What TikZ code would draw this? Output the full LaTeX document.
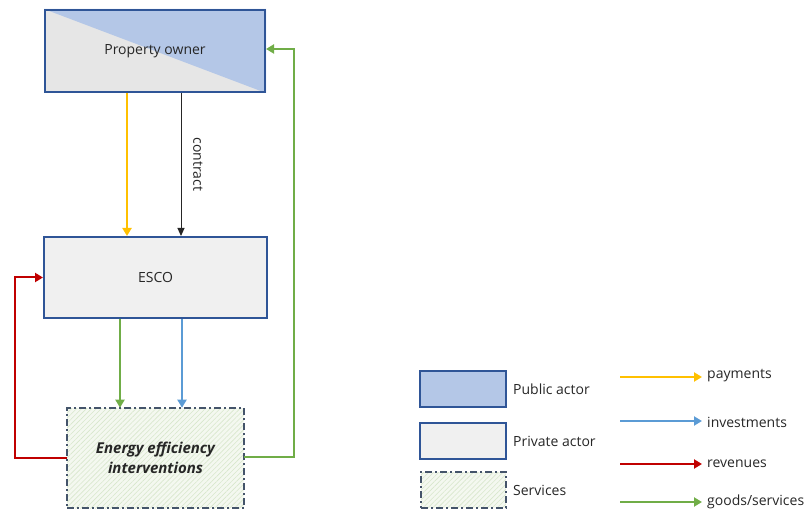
\documentclass[tikz,border=0pt]{standalone}
\usepackage{fontspec}
\setmainfont{Open Sans}
\usetikzlibrary{arrows.meta,patterns.meta,calc}
\definecolor{pubfill}{HTML}{B4C7E7}
\definecolor{actborder}{HTML}{2F5597}
\definecolor{privfill}{HTML}{F0F0F0}
\definecolor{ownerfill}{HTML}{E6E6E6}
\definecolor{servfill}{HTML}{F4F8F0}
\definecolor{hatchc}{HTML}{D8E7CC}
\definecolor{servborder}{HTML}{44546A}
\definecolor{txt}{HTML}{262626}
\definecolor{cpay}{HTML}{FFC000}
\definecolor{cinv}{HTML}{5B9BD5}
\definecolor{crev}{HTML}{C00000}
\definecolor{cgood}{HTML}{70AD47}
\tikzset{
  x=1pt, y=-1pt,
  lbl/.style={font=\fontsize{14}{16}\selectfont, text=txt},
  actor/.style={draw=actborder, line width=2pt, inner sep=0pt, lbl},
  pubbox/.style={actor, fill=pubfill},
  privbox/.style={actor, fill=privfill},
  servbox/.style={draw=servborder, line width=1.4pt, dash pattern=on 7pt off 3pt on 2pt off 3pt,
    preaction={fill=servfill},
    pattern={Lines[angle=45,distance=3.5pt,line width=0.6pt]}, pattern color=hatchc,
    inner sep=0pt, align=center},
  flow/.style={line width=2pt, -{Triangle[length=8pt,width=9pt]}},
  pay/.style={flow, draw=cpay},
  inv/.style={flow, draw=cinv},
  rev/.style={flow, draw=crev},
  good/.style={flow, draw=cgood},
  legtext/.style={anchor=west, inner sep=0pt, lbl},
}
\begin{document}
\begin{tikzpicture}
\useasboundingbox (0,0) rectangle (810,510);

% actors and services
\node[actor, fill=ownerfill, minimum width=220pt, minimum height=82pt] (owner) at (155,51) {};
\fill[pubfill] (owner.north west) -- (owner.north east) -- (owner.south east) -- cycle;
\node[actor, minimum width=220pt, minimum height=82pt] (ownerlbl) at (155,51) {Property owner};

\node[privbox, minimum width=223pt, minimum height=81pt] (esco) at (155.5,277.5) {ESCO};

\node[servbox, minimum width=177pt, minimum height=100pt, text=txt,
      font=\fontsize{15}{20.5}\selectfont\bfseries\itshape] (eei) at (155.5,458)
  {Energy efficiency\\interventions};

% flows between actors
\draw[pay] (owner.south -| 127,0) -- (esco.north -| 127,0);
\draw[line width=1pt, draw=txt, -{Triangle[length=8pt,width=7pt]}] (owner.south -| 181,0) -- node[pos=0.5, xshift=17pt, rotate=-90, inner sep=0pt, lbl] {contract} (esco.north -| 181,0);
\draw[good] (esco.south -| 120,0) -- (eei.north -| 120,0);
\draw[inv] (esco.south -| 182,0) -- (eei.north -| 182,0);
\coordinate (revc) at (15,0);
\draw[rev] (eei.west |- 0,458) -| (revc |- esco.west) -- (esco.west);
\coordinate (goodc) at (294,0);
\draw[good] (eei.east |- 0,457) -| (goodc |- 0,49) -- (owner.east |- 0,49);

% legend: actor types
\node[pubbox, minimum width=86pt, minimum height=36pt] (lpub) at (463,389) {};
\node[legtext] (lpubt) at (513,389) {Public actor};
\node[privbox, minimum width=86pt, minimum height=36pt] (lpriv) at (463,441) {};
\node[legtext] (lprivt) at (513,441) {Private actor};
\node[servbox, minimum width=85pt, minimum height=36pt] (lserv) at (463.5,490) {};
\node[legtext] (lservt) at (513,490) {Services};

% legend: flow types
\coordinate (lp0) at (620,377); \coordinate (lp1) at (702,377);
\draw[pay] (lp0) -- (lp1);
\node[legtext] (lpt) at (707,376) {payments};
\coordinate (li0) at (620,421); \coordinate (li1) at (702,421);
\draw[inv] (li0) -- (li1);
\node[legtext] (lit) at (707,422) {investments};
\coordinate (lr0) at (620,464); \coordinate (lr1) at (702,464);
\draw[rev] (lr0) -- (lr1);
\node[legtext] (lrt) at (707,464) {revenues};
\coordinate (lg0) at (620,502); \coordinate (lg1) at (702,502);
\draw[good] (lg0) -- (lg1);
\node[legtext] (lgt) at (707,502) {goods/services};
\end{tikzpicture}
\end{document}
